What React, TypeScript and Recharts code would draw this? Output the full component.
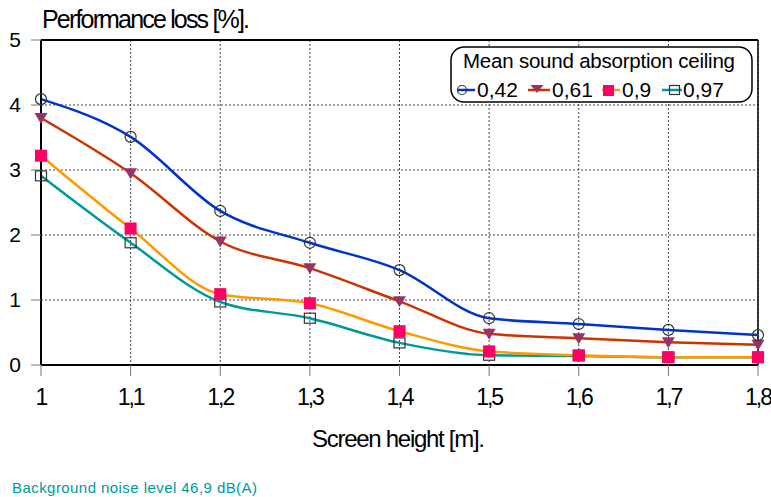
import React from "react";
import {
  LineChart,
  Line,
  XAxis,
  YAxis,
  CartesianGrid,
  ReferenceLine,
} from "recharts";

// screen heights (m) and performance loss (%) per ceiling absorption
const heights = [1, 1.1, 1.2, 1.3, 1.4, 1.5, 1.6, 1.7, 1.8];
const loss042 = [4.09, 3.51, 2.37, 1.88, 1.46, 0.72, 0.63, 0.54, 0.46];
const loss061 = [3.8, 2.95, 1.9, 1.49, 0.98, 0.48, 0.41, 0.35, 0.31];
const loss090 = [3.22, 2.1, 1.09, 0.95, 0.52, 0.21, 0.15, 0.12, 0.12];
const loss097 = [2.91, 1.88, 0.97, 0.72, 0.34, 0.15, 0.14, 0.12, 0.12];
const yTicks = [0, 1, 2, 3, 4, 5];

const data = heights.map((h, i) => ({
  h,
  a: loss042[i],
  b: loss061[i],
  c: loss090[i],
  d: loss097[i],
}));

const FONT = "'Liberation Sans', Arial, sans-serif";
const BLUE = "#0033cc";
const RED = "#cc3300";
const ORANGE = "#ff9900";
const TEAL = "#009999";

const fmt = (v: number) => String(v).replace(".", ",");

const circleDot = (p: any) => (
  <circle key={p.index} cx={p.cx} cy={p.cy} r={5.5} fill="none" stroke="#333" strokeWidth={1.2} />
);
const triDot = (p: any) => (
  <path
    key={p.index}
    d={`M${p.cx - 6.5},${p.cy - 5} L${p.cx + 6.5},${p.cy - 5} L${p.cx},${p.cy + 6} Z`}
    fill="#993366"
  />
);
const squareDot = (p: any) => (
  <rect key={p.index} x={p.cx - 6} y={p.cy - 6} width={12} height={12} fill="#ff0066" />
);
const openSquareDot = (p: any) => (
  <rect key={p.index} x={p.cx - 5.5} y={p.cy - 5} width={11} height={10} fill="none" stroke="#333" strokeWidth={1.2} />
);

const XTick = (props: any) => {
  const { x, y, payload } = props;
  return (
    <text x={x} y={y} dy="0.71em" textAnchor="middle" fontSize={23} fontFamily={FONT} fill="#000" letterSpacing={-2}>
      {fmt(payload.value)}
    </text>
  );
};

export default function App() {
  return (
    <div style={{ position: "relative", width: 771, height: 497, background: "#fff" }}>
      <style>{`body{margin:0}`}</style>
      <LineChart width={771} height={497} data={data} margin={{ top: 40, right: 13, left: 0, bottom: 0 }}>
        <CartesianGrid stroke="#444" strokeDasharray="2 2" />
        <XAxis
          type="number"
          dataKey="h"
          domain={[1, 1.8]}
          ticks={heights}
          height={132}
          tickSize={11}
          tickMargin={13}
          axisLine={{ stroke: "#000", strokeWidth: 2 }}
          tickLine={{ stroke: "#777" }}
          tick={<XTick />}
        />
        <YAxis
          domain={[0, 5]}
          ticks={yTicks}
          width={41}
          tickSize={10}
          tickMargin={10}
          axisLine={{ stroke: "#000", strokeWidth: 2 }}
          tickLine={{ stroke: "#777" }}
          tick={{ fontSize: 21, fill: "#000", fontFamily: FONT }}
        />
        <ReferenceLine y={5} stroke="#000" strokeWidth={2} />
        <ReferenceLine x={1.8} stroke="#000" strokeWidth={1.5} />
        <Line type="monotone" dataKey="d" stroke={TEAL} strokeWidth={2.5} dot={openSquareDot} isAnimationActive={false} />
        <Line type="monotone" dataKey="c" stroke={ORANGE} strokeWidth={2.5} dot={squareDot} isAnimationActive={false} />
        <Line type="monotone" dataKey="b" stroke={RED} strokeWidth={2.5} dot={triDot} isAnimationActive={false} />
        <Line type="monotone" dataKey="a" stroke={BLUE} strokeWidth={2.5} dot={circleDot} isAnimationActive={false} />
      </LineChart>

      <svg width={771} height={497} style={{ position: "absolute", left: 0, top: 0, pointerEvents: "none" }}>
        <text x={42} y={28} fontSize={25} fontFamily={FONT} textLength={208} lengthAdjust="spacing">
          Performance loss [%].
        </text>
        <text x={312} y={447} fontSize={24} fontFamily={FONT} textLength={173} lengthAdjust="spacing">
          Screen height [m].
        </text>
        <text x={12} y={493} fontSize={15} fontFamily={FONT} fill={TEAL} textLength={245} lengthAdjust="spacing">
          Background noise level 46,9 dB(A)
        </text>

        <rect x={451} y={47} width={301} height={55} rx={13} fill="#fff" stroke="#000" strokeWidth={1.5} />
        <text x={463} y={68} fontSize={20.5} fontFamily={FONT} textLength={272} lengthAdjust="spacing">
          Mean sound absorption ceiling
        </text>

        <line x1={457} x2={475} y1={90} y2={90} stroke={BLUE} strokeWidth={2.5} />
        <circle cx={462} cy={90} r={4.5} fill="none" stroke="#333" strokeWidth={1.2} />
        <text x={477} y={97} fontSize={21} fontFamily={FONT}>0,42</text>

        <line x1={528} x2={550} y1={90} y2={90} stroke={RED} strokeWidth={2.5} />
        <path d="M530.5,85 L543.5,85 L537,93 Z" fill="#993366" />
        <text x={552} y={97} fontSize={21} fontFamily={FONT}>0,61</text>

        <line x1={602} x2={620} y1={90} y2={90} stroke={ORANGE} strokeWidth={2.5} />
        <rect x={603} y={85} width={11} height={11} fill="#ff0066" />
        <text x={622} y={97} fontSize={21} fontFamily={FONT}>0,9</text>

        <line x1={662} x2={682} y1={90} y2={90} stroke={TEAL} strokeWidth={2.5} />
        <rect x={669.5} y={85.5} width={10} height={9} fill="none" stroke="#333" strokeWidth={1.2} />
        <text x={683} y={97} fontSize={21} fontFamily={FONT}>0,97</text>
      </svg>
    </div>
  );
}
